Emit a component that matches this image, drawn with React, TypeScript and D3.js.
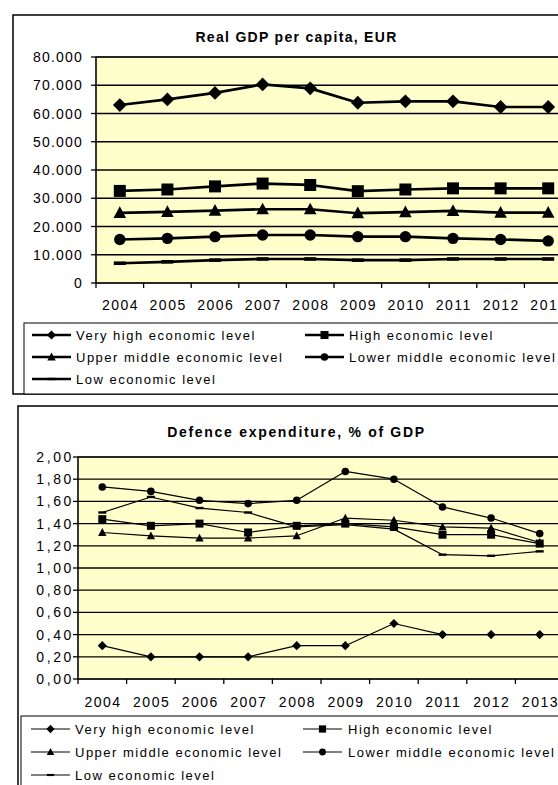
import React from 'react';
import * as d3 from 'd3';

const years = ['2004', '2005', '2006', '2007', '2008', '2009', '2010', '2011', '2012', '2013'];
const seriesNames = [
  'Very high economic level',
  'High economic level',
  'Upper middle economic level',
  'Lower middle economic level',
  'Low economic level',
];
const markerKinds = ['diamond', 'square', 'triangle', 'circle', 'dash'];

// Real GDP per capita, EUR
const gdpVeryHigh = [63000, 65000, 67300, 70300, 68900, 63800, 64300, 64300, 62300, 62300];
const gdpHigh = [32600, 33100, 34200, 35200, 34700, 32500, 33100, 33500, 33500, 33500];
const gdpUpperMiddle = [24800, 25200, 25600, 26100, 26100, 24700, 25100, 25500, 24900, 24900];
const gdpLowerMiddle = [15400, 15800, 16400, 17000, 17000, 16400, 16400, 15800, 15400, 14900];
const gdpLow = [7000, 7500, 8100, 8500, 8500, 8100, 8100, 8500, 8500, 8500];
const gdpTicks = [0, 10000, 20000, 30000, 40000, 50000, 60000, 70000, 80000];
const gdpTickLabels = ['0', '10.000', '20.000', '30.000', '40.000', '50.000', '60.000', '70.000', '80.000'];

// Defence expenditure, % of GDP
const defVeryHigh = [0.3, 0.2, 0.2, 0.2, 0.3, 0.3, 0.5, 0.4, 0.4, 0.4];
const defHigh = [1.44, 1.38, 1.4, 1.32, 1.38, 1.4, 1.37, 1.3, 1.3, 1.22];
const defUpperMiddle = [1.32, 1.29, 1.27, 1.27, 1.29, 1.45, 1.43, 1.37, 1.36, 1.23];
const defLowerMiddle = [1.73, 1.69, 1.61, 1.58, 1.61, 1.87, 1.8, 1.55, 1.45, 1.31];
const defLow = [1.5, 1.64, 1.54, 1.5, 1.37, 1.39, 1.35, 1.12, 1.11, 1.15];
const defTicks = [0, 0.2, 0.4, 0.6, 0.8, 1.0, 1.2, 1.4, 1.6, 1.8, 2.0];
const defTickLabels = ['0,00', '0,20', '0,40', '0,60', '0,80', '1,00', '1,20', '1,40', '1,60', '1,80', '2,00'];

const FONT = "'Liberation Sans', Arial, sans-serif";
const PLOT_FILL = '#FFFFCC';

function Marker({ kind, x, y, s }: { kind: string; x: number; y: number; s: number }) {
  if (kind === 'diamond') {
    return <path d={`M${x},${y - s * 1.15}L${x + s * 1.15},${y}L${x},${y + s * 1.15}L${x - s * 1.15},${y}Z`} fill="#000" />;
  }
  if (kind === 'square') {
    return <rect x={x - s} y={y - s} width={2 * s} height={2 * s} fill="#000" />;
  }
  if (kind === 'triangle') {
    return <path d={`M${x},${y - s * 1.1}L${x + s * 1.05},${y + s * 0.85}L${x - s * 1.05},${y + s * 0.85}Z`} fill="#000" />;
  }
  if (kind === 'circle') {
    return <circle cx={x} cy={y} r={s * 0.95} fill="#000" />;
  }
  return <rect x={x - s} y={y - s * 0.3} width={2 * s} height={s * 0.6} fill="#000" />;
}

type ChartCfg = {
  box: { x: number; y: number; bottom: number };
  legendBox: { x: number; y: number; bottom: number };
  title: string;
  titleY: number;
  titleLs: number;
  plot: { left: number; right: number; top: number; bottom: number };
  yMax: number;
  ticks: number[];
  tickLabels: string[];
  yLabelX: number;
  yLabelLs: number;
  xLabelY: number;
  series: number[][];
  lineWidth: number;
  markerSize: number;
  gridWidth: number;
  legend: { col1Line: number; col1Text: number; col2Line: number; col2Text: number; rows: number[]; lineLen: number; lineWidth: number; markerSize: number };
};

function Chart({ c }: { c: ChartCfg }) {
  const x = d3.scaleBand<string>().domain(years).range([c.plot.left, c.plot.right]);
  const y = d3.scaleLinear().domain([0, c.yMax]).range([c.plot.bottom, c.plot.top]);
  const line = d3
    .line<number>()
    .x((_, i) => (x(years[i]) as number) + x.bandwidth() / 2)
    .y((d) => y(d));
  const titleX = 296.5;
  // legend item positions: order 0 col1 row0, 1 col2 row0, 2 col1 row1, 3 col2 row1, 4 col1 row2
  const legendPos = seriesNames.map((_, i) => ({
    col: i % 2,
    row: Math.floor(i / 2),
  }));
  return (
    <g>
      {/* outer box */}
      <rect x={c.box.x} y={c.box.y} width={700} height={c.box.bottom - c.box.y} fill="#fff" stroke="#000" strokeWidth={1.5} />
      <text x={titleX} y={c.titleY} textAnchor="middle" fontFamily={FONT} fontWeight="bold" fontSize={14} style={{ letterSpacing: `${c.titleLs}px` }}>
        {c.title}
      </text>
      {/* plot area */}
      <rect x={c.plot.left} y={c.plot.top} width={c.plot.right - c.plot.left} height={c.plot.bottom - c.plot.top} fill={PLOT_FILL} stroke="#808080" strokeWidth={1.5} />
      {c.ticks.map((t, i) =>
        t > 0 ? (
          <line key={'g' + i} x1={c.plot.left} x2={c.plot.right} y1={y(t)} y2={y(t)} stroke="#000" strokeWidth={c.gridWidth} />
        ) : null
      )}
      {/* axes */}
      <line x1={c.plot.left} x2={c.plot.left} y1={c.plot.top} y2={c.plot.bottom} stroke="#000" strokeWidth={1.3} />
      <line x1={c.plot.left} x2={c.plot.right} y1={c.plot.bottom} y2={c.plot.bottom} stroke="#000" strokeWidth={1.3} />
      {c.ticks.map((t, i) => (
        <g key={'yt' + i}>
          <line x1={c.plot.left - 5} x2={c.plot.left} y1={y(t)} y2={y(t)} stroke="#000" strokeWidth={1.3} />
          <text x={c.yLabelX} y={y(t) + 5} textAnchor="end" fontFamily={FONT} fontSize={14} style={{ letterSpacing: `${c.yLabelLs}px` }}>
            {c.tickLabels[i]}
          </text>
        </g>
      ))}
      {years.map((yr, i) => (
        <g key={'xt' + i}>
          <line x1={x(yr) as number} x2={x(yr) as number} y1={c.plot.bottom} y2={c.plot.bottom + 5} stroke="#000" strokeWidth={1.3} />
          <text x={(x(yr) as number) + x.bandwidth() / 2 + 0.75} y={c.xLabelY} textAnchor="middle" fontFamily={FONT} fontSize={14} style={{ letterSpacing: '1.5px' }}>
            {yr}
          </text>
        </g>
      ))}
      {x(years[years.length - 1]) !== undefined && (
        <line x1={c.plot.right} x2={c.plot.right} y1={c.plot.bottom} y2={c.plot.bottom + 5} stroke="#000" strokeWidth={1.3} />
      )}
      {/* series */}
      {c.series.map((s, si) => (
        <g key={'s' + si}>
          <path d={line(s) as string} fill="none" stroke="#000" strokeWidth={c.lineWidth} strokeLinejoin="round" />
          {s.map((v, i) => (
            <Marker key={i} kind={markerKinds[si]} x={(x(years[i]) as number) + x.bandwidth() / 2} y={y(v)} s={c.markerSize} />
          ))}
        </g>
      ))}
      {/* legend */}
      <rect x={c.legendBox.x} y={c.legendBox.y} width={700} height={c.legendBox.bottom - c.legendBox.y} fill="#fff" stroke="#000" strokeWidth={1} />
      {seriesNames.map((name, i) => {
        const p = legendPos[i];
        const lx = p.col === 0 ? c.legend.col1Line : c.legend.col2Line;
        const tx = p.col === 0 ? c.legend.col1Text : c.legend.col2Text;
        const ly = c.legend.rows[p.row];
        return (
          <g key={'l' + i}>
            <line x1={lx} x2={lx + c.legend.lineLen} y1={ly} y2={ly} stroke="#000" strokeWidth={c.legend.lineWidth} />
            <Marker kind={markerKinds[i]} x={lx + c.legend.lineLen / 2} y={ly} s={c.legend.markerSize} />
            <text x={tx} y={ly + 4.5} fontFamily={FONT} fontSize={13} style={{ letterSpacing: '1.5px' }}>
              {name}
            </text>
          </g>
        );
      })}
    </g>
  );
}

export default function App() {
  const top: ChartCfg = {
    box: { x: 13, y: 15, bottom: 394 },
    legendBox: { x: 24, y: 323, bottom: 394 },
    title: 'Real GDP per capita, EUR',
    titleY: 42,
    titleLs: 1.3,
    plot: { left: 96, right: 572, top: 57, bottom: 283 },
    yMax: 80000,
    ticks: gdpTicks,
    tickLabels: gdpTickLabels,
    yLabelX: 83,
    yLabelLs: 1.2,
    xLabelY: 310,
    series: [gdpVeryHigh, gdpHigh, gdpUpperMiddle, gdpLowerMiddle, gdpLow],
    lineWidth: 2.7,
    markerSize: 6,
    gridWidth: 1.4,
    legend: { col1Line: 32, col1Text: 76, col2Line: 305, col2Text: 349, rows: [335, 357, 379], lineLen: 39, lineWidth: 2.5, markerSize: 4 },
  };
  const bottom: ChartCfg = {
    box: { x: 18, y: 406, bottom: 900 },
    legendBox: { x: 21, y: 716, bottom: 900 },
    title: 'Defence expenditure, % of GDP',
    titleY: 437,
    titleLs: 1.7,
    plot: { left: 78, right: 564, top: 457, bottom: 679 },
    yMax: 2,
    ticks: defTicks,
    tickLabels: defTickLabels,
    yLabelX: 74,
    yLabelLs: 2.6,
    xLabelY: 707,
    series: [defVeryHigh, defHigh, defUpperMiddle, defLowerMiddle, defLow],
    lineWidth: 1.2,
    markerSize: 4,
    gridWidth: 1.3,
    legend: { col1Line: 31, col1Text: 75, col2Line: 303, col2Text: 348, rows: [729, 752, 775], lineLen: 39, lineWidth: 1.2, markerSize: 3.6 },
  };
  return (
    <svg width={558} height={785} style={{ position: 'absolute', left: 0, top: 0, background: '#fff' }}>
      <rect x={0} y={0} width={558} height={785} fill="#fff" />
      <Chart c={top} />
      <Chart c={bottom} />
    </svg>
  );
}
